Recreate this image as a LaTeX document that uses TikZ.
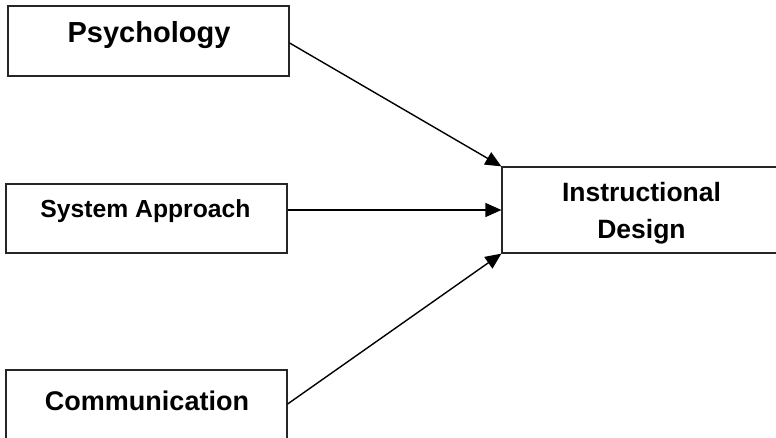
\documentclass[tikz,border=0pt]{standalone}
\usepackage{fontspec}
\setmainfont{Liberation Sans}
\usetikzlibrary{arrows.meta}
\begin{document}
\begin{tikzpicture}[x=1pt,y=-1pt,
  box/.style={draw=black!85,line width=1.2pt,inner sep=0pt,fill=white},
  lbl/.style={inner sep=0pt,font=\bfseries,align=center},
  link/.style={line width=1.4pt,-{Triangle[length=16pt,width=14pt]}}]
\useasboundingbox (0,0) rectangle (776,438);
\clip (0,0) rectangle (776,438);
% source boxes
\node[box,minimum width=281pt,minimum height=70pt] (psy) at (148.5,41) {};
\node[box,minimum width=281pt,minimum height=69pt] (sys) at (146.5,218.5) {};
\node[box,minimum width=281pt,minimum height=100pt] (com) at (146.5,420) {};
% target box
\node[box,minimum width=300pt,minimum height=86pt] (ins) at (652,210) {};
% labels
\node[lbl,font=\bfseries\fontsize{29}{34}\selectfont] (tpsy) at (149,35) {Psychology};
\node[lbl,font=\bfseries\fontsize{24.7}{30}\selectfont] (tsys) at (145.5,211) {System Approach};
\node[lbl,font=\bfseries\fontsize{27}{32}\selectfont] (tcom) at (147,401) {Communication};
\node[lbl,font=\bfseries\fontsize{26.5}{37}\selectfont] (tins) at (641.5,213) {Instructional\\Design};
% connectors
\coordinate (psyout) at (psy.east |- 0,43);
\coordinate (comout) at (com.east |- 0,404);
\draw[link] (psyout) -- (ins.north west);
\draw[link] (sys.east |- ins.west) -- (ins.west);
\draw[link] (comout) -- (ins.south west);
\end{tikzpicture}
\end{document}
